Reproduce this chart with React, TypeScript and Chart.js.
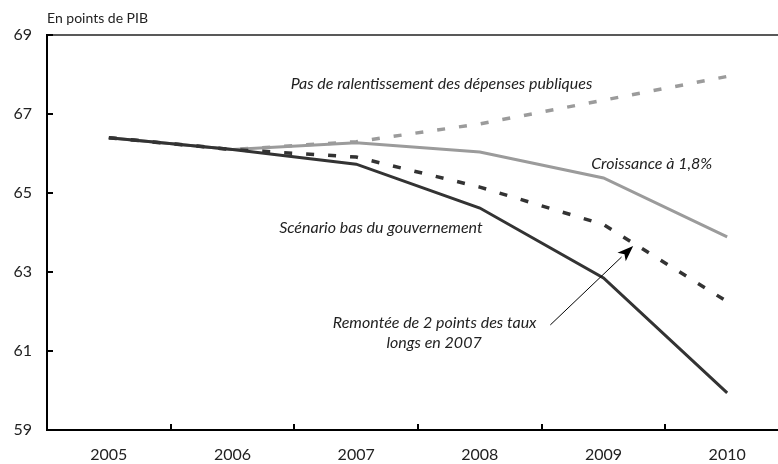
import React, { useEffect, useRef } from "react";
import { Chart, registerables } from "chart.js";

Chart.register(...registerables);

const years = ["2005", "2006", "2007", "2008", "2009", "2010"];
const pasRalentissement = [66.4, 66.1, 66.3, 66.75, 67.35, 67.95];
const croissance = [66.4, 66.1, 66.27, 66.04, 65.38, 63.89];
const remontee = [66.4, 66.1, 65.91, 65.15, 64.2, 62.25];
const scenarioBas = [66.4, 66.1, 65.73, 64.62, 62.85, 59.94];
const yTicks = [59, 61, 63, 65, 67, 69];
const yTitle = "En points de PIB";

// annotations anchored in data space: [category index, value]
const annotationTexts = [
  "Pas de ralentissement des dépenses publiques",
  "Croissance à 1,8%",
  "Scénario bas du gouvernement",
  "Remontée de 2 points des taux",
  "longs en 2007",
];
const annotationIdx = [2.69, 4.39, 2.2, 2.635, 2.63];
const annotationVal = [67.76, 65.73, 64.11, 61.71, 61.2];
const arrowFrom = [3.57, 61.66];
const arrowTo = [4.24, 63.66];

const DARK = "#333333";
const GRAY = "#9b9b9b";
const FONT = "Lato, 'Open Sans', sans-serif";

const decorPlugin = {
  id: "decor",
  afterDatasetsDraw(chart: any) {
    const { ctx, chartArea, scales } = chart;
    const x = scales.x;
    const y = scales.y;
    ctx.save();
    // top line
    ctx.strokeStyle = "#222";
    ctx.lineWidth = 1.5;
    ctx.beginPath();
    ctx.moveTo(chartArea.left, chartArea.top);
    ctx.lineTo(chartArea.right, chartArea.top);
    ctx.stroke();
    // inner y ticks
    ctx.strokeStyle = "#000";
    ctx.lineWidth = 2;
    yTicks.forEach((v) => {
      const py = y.getPixelForValue(v);
      ctx.beginPath();
      ctx.moveTo(chartArea.left, py);
      ctx.lineTo(chartArea.left + 6, py);
      ctx.stroke();
    });
    // inner x ticks at category boundaries
    for (let i = 1; i <= years.length; i++) {
      const px = Math.round(x.getPixelForValue(i - 0.5));
      ctx.beginPath();
      ctx.moveTo(px, chartArea.bottom);
      ctx.lineTo(px, chartArea.bottom - 6);
      ctx.stroke();
    }
    // title
    ctx.fillStyle = "#222";
    ctx.font = `14px ${FONT}`;
    ctx.textAlign = "left";
    ctx.textBaseline = "middle";
    ctx.fillText(yTitle, chartArea.left, chartArea.top - 17);
    // annotations
    ctx.font = `italic 16px ${FONT}`;
    ctx.textAlign = "center";
    annotationTexts.forEach((t, i) => {
      ctx.fillText(t, x.getPixelForValue(annotationIdx[i]), y.getPixelForValue(annotationVal[i]));
    });
    // arrow
    const x0 = x.getPixelForValue(arrowFrom[0]);
    const y0 = y.getPixelForValue(arrowFrom[1]);
    const x1 = x.getPixelForValue(arrowTo[0]);
    const y1 = y.getPixelForValue(arrowTo[1]);
    const ang = Math.atan2(y1 - y0, x1 - x0);
    const hl = 16;
    const hw = 6;
    const bx = x1 - hl * Math.cos(ang);
    const by = y1 - hl * Math.sin(ang);
    ctx.strokeStyle = "#000";
    ctx.lineWidth = 1;
    ctx.beginPath();
    ctx.moveTo(x0, y0);
    ctx.lineTo(bx, by);
    ctx.stroke();
    ctx.fillStyle = "#000";
    ctx.beginPath();
    ctx.moveTo(x1, y1);
    ctx.lineTo(bx - hw * Math.sin(ang), by + hw * Math.cos(ang));
    ctx.lineTo(x1 - (hl - 4) * Math.cos(ang), y1 - (hl - 4) * Math.sin(ang));
    ctx.lineTo(bx + hw * Math.sin(ang), by - hw * Math.cos(ang));
    ctx.closePath();
    ctx.fill();
    ctx.restore();
  },
};

export default function App() {
  const ref = useRef<HTMLCanvasElement>(null);
  useEffect(() => {
    if (!ref.current) return;
    const chart = new Chart(ref.current, {
      type: "line",
      data: {
        labels: years,
        datasets: [
          { label: "Pas de ralentissement", data: pasRalentissement, borderColor: GRAY, borderWidth: 3.5, borderDash: [8, 14], order: 4 },
          { label: "Croissance à 1,8%", data: croissance, borderColor: GRAY, borderWidth: 3, order: 3 },
          { label: "Remontée des taux", data: remontee, borderColor: DARK, borderWidth: 3.5, borderDash: [8, 14], order: 2 },
          { label: "Scénario bas", data: scenarioBas, borderColor: DARK, borderWidth: 3, order: 1 },
        ].map((d) => ({ ...d, pointRadius: 0, tension: 0, fill: false, borderJoinStyle: "miter" as const })),
      },
      options: {
        animation: false,
        responsive: false,
        devicePixelRatio: 1,
        layout: { padding: { top: 35, right: 11, left: 0, bottom: 0 } },
        plugins: { legend: { display: false }, tooltip: { enabled: false }, title: { display: false } },
        scales: {
          x: {
            type: "category",
            offset: true,
            grid: { display: false, drawTicks: false },
            border: { display: true, color: "#000", width: 2 },
            ticks: { color: "#222", font: { family: FONT, size: 16 }, padding: 15, maxRotation: 0 },
            afterFit: (s: any) => { s.height = 34; },
          },
          y: {
            min: 59,
            max: 69,
            grid: { display: false, drawTicks: false },
            border: { display: true, color: "#000", width: 2 },
            ticks: { stepSize: 2, color: "#222", font: { family: FONT, size: 16 }, padding: 15 },
            afterFit: (s: any) => { s.width = 47; },
          },
        },
      },
      plugins: [decorPlugin],
    });
    return () => chart.destroy();
  }, []);
  return (
    <div style={{ position: "fixed", left: 0, top: 0, width: 778, height: 464, overflow: "hidden", background: "#fff" }}>
      <canvas ref={ref} width={800} height={464} style={{ width: 800, height: 464, display: "block" }} />
    </div>
  );
}
